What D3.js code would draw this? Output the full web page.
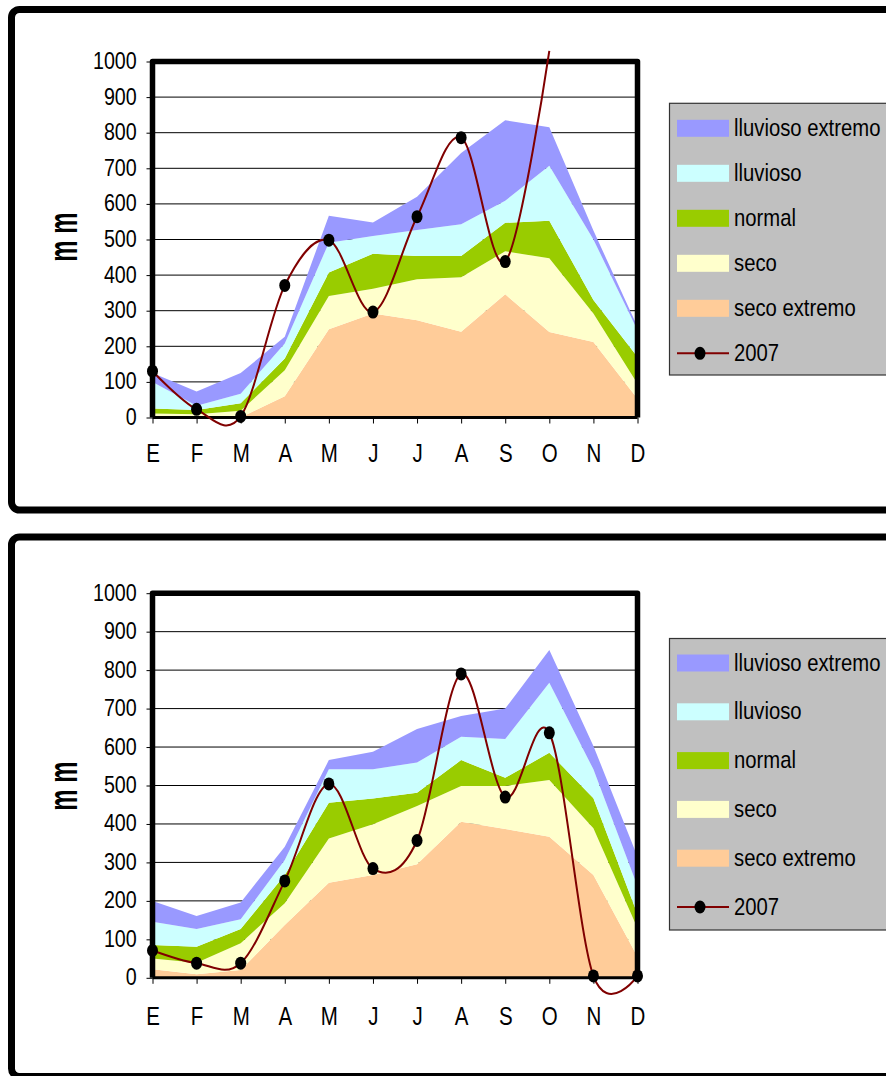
<!DOCTYPE html>
<html>
<head>
<meta charset="utf-8">
<script src="https://cdn.jsdelivr.net/npm/d3@7"></script>
<style>
  html, body { margin: 0; padding: 0; background: #fff; }
  svg { display: block; }
  text { font-family: "Liberation Sans", Arial, sans-serif; fill: #000; }
</style>
</head>
<body>
<svg id="chart" width="886" height="1076"></svg>
<script>
// Month initials (Spanish) and axis ticks
const meses = ["E", "F", "M", "A", "M", "J", "J", "A", "S", "O", "N", "D"];
const ticksMm = [0, 100, 200, 300, 400, 500, 600, 700, 800, 900, 1000];
const nombresSeries = ["lluvioso extremo", "lluvioso", "normal", "seco", "seco extremo"];
const nombreAnio = "2007";

// Panel 1: upper limit of each precipitation class (mm)
const lluviosoExtremo1 = [125, 73, 125, 227, 567, 548, 620, 743, 835, 815, 525, 255];
const lluvioso1        = [100, 33, 67, 208, 491, 510, 527, 543, 609, 707, 500, 245];
const normal1          = [25, 21, 40, 166, 407, 460, 454, 454, 547, 553, 330, 170];
const seco1            = [11, 9, 19, 133, 341, 362, 388, 394, 467, 447, 292, 95];
const secoExtremo1     = [0, 0, 0, 60, 248, 292, 273, 241, 346, 240, 212, 53];
const lluvia2007_1     = [130, 23, 3, 371, 498, 296, 564, 786, 438, 1030, null, null];

// Panel 2: upper limit of each precipitation class (mm)
const lluviosoExtremo2 = [200, 161, 196, 341, 566, 588, 647, 681, 700, 852, 603, 315];
const lluvioso2        = [146, 127, 152, 306, 542, 542, 560, 627, 621, 767, 542, 238];
const normal2          = [85, 81, 127, 267, 455, 466, 481, 566, 520, 585, 467, 165];
const seco2            = [50, 39, 90, 194, 362, 399, 447, 499, 499, 514, 389, 129];
const secoExtremo2     = [22, 9, 20, 137, 247, 267, 295, 406, 387, 367, 267, 55];
const lluvia2007_2     = [71, 38, 38, 252, 504, 284, 357, 790, 470, 637, 5, 5];

// Fill colours, ordered like nombresSeries
const colores = ["#9999FF", "#CCFFFF", "#99CC00", "#FFFFCC", "#FFCC99"];
const colorLinea = "#800000";
const NARROW = 0.82;        // horizontal squeeze giving a narrow sans face
const NARROW_LEYENDA = 0.845;

const svg = d3.select("#chart");

// Text helper: narrow glyphs via a horizontal scale transform
function narrowText(parent, x, y, str, opts = {}) {
  const t = parent.append("text")
    .attr("transform", `translate(${x},${y}) scale(${opts.sx || NARROW},${opts.sy || 1})`)
    .attr("text-anchor", opts.anchor || "start")
    .style("font-size", (opts.size || 24) + "px")
    .text(str);
  if (opts.bold) t.style("font-weight", "bold");
  return t;
}

function drawPanel(cfg, limites, anio) {
  const g = svg.append("g");

  // Outer frame
  g.append("rect")
    .attr("x", 11.5).attr("y", cfg.frameTop)
    .attr("width", 900).attr("height", cfg.frameBottom - cfg.frameTop)
    .attr("rx", 8).attr("ry", 8)
    .attr("fill", "none").attr("stroke", "#000").attr("stroke-width", 7);

  const x = d3.scaleLinear().domain([0, meses.length - 1]).range([cfg.left, cfg.right]);
  const y = d3.scaleLinear().domain([0, 1000]).range([cfg.bottom, cfg.top]);

  // Horizontal gridlines
  g.append("g").selectAll("line")
    .data(ticksMm.filter(v => v > 0 && v < 1000))
    .join("line")
    .attr("x1", cfg.left).attr("x2", cfg.right)
    .attr("y1", d => y(d)).attr("y2", d => y(d))
    .attr("stroke", "#000").attr("stroke-width", 1);

  // Stacked bands: each class fills from the limit below to its own limit
  const capas = [
    { lo: null, hi: limites.secoExtremo, color: colores[4] },
    { lo: limites.secoExtremo, hi: limites.seco, color: colores[3] },
    { lo: limites.seco, hi: limites.normal, color: colores[2] },
    { lo: limites.normal, hi: limites.lluvioso, color: colores[1] },
    { lo: limites.lluvioso, hi: limites.lluviosoExtremo, color: colores[0] }
  ];
  capas.forEach(c => {
    const area = d3.area()
      .x((d, i) => x(i))
      .y0((d, i) => y(c.lo ? c.lo[i] : 0))
      .y1((d, i) => y(d));
    g.append("path").datum(c.hi).attr("d", area).attr("fill", c.color);
  });

  // Y axis
  const ay = g.append("g").attr("transform", `translate(${cfg.left},0)`)
    .call(d3.axisLeft(y).tickValues(ticksMm).tickSize(6).tickFormat(d3.format("d")));
  ay.select(".domain").remove();
  ay.selectAll(".tick line").attr("stroke", "#000").attr("stroke-width", 1);
  ay.selectAll(".tick text")
    .attr("x", -15.8 / NARROW).attr("dy", null).attr("y", 7)
    .attr("transform", `scale(${NARROW},1)`)
    .attr("fill", "#000")
    .style("font-size", "24px")
    .style("font-family", '"Liberation Sans", Arial, sans-serif');

  // X axis
  const ax = g.append("g").attr("transform", `translate(0,${cfg.bottom})`)
    .call(d3.axisBottom(x).tickValues(d3.range(meses.length)).tickSize(6).tickFormat(i => meses[i]));
  ax.select(".domain").remove();
  ax.selectAll(".tick line").attr("stroke", "#000").attr("stroke-width", 1);
  ax.selectAll(".tick text")
    .attr("y", cfg.labelBase - cfg.bottom).attr("dy", null)
    .attr("transform", `scale(${NARROW},1)`)
    .attr("fill", "#000")
    .style("font-size", "25px")
    .style("font-family", '"Liberation Sans", Arial, sans-serif');

  // Plot-area border
  g.append("path")
    .attr("d", `M${cfg.left},${cfg.bottom}V${cfg.top}H${cfg.right}V${cfg.bottom}`)
    .attr("fill", "none").attr("stroke", "#000").attr("stroke-width", 5.5)
    .attr("stroke-linejoin", "round");
  g.append("line")
    .attr("x1", cfg.left).attr("x2", cfg.right)
    .attr("y1", cfg.bottom).attr("y2", cfg.bottom)
    .attr("stroke", "#000").attr("stroke-width", 3);

  // Axis title
  g.append("text")
    .attr("transform", `translate(77.3,${cfg.titleY}) rotate(-90) scale(0.6,1)`)
    .attr("text-anchor", "middle")
    .style("font-size", "40px").style("font-weight", "bold")
    .text("m m");

  // 2007 rainfall: smoothed line and markers
  const linea = d3.line()
    .defined(d => d != null)
    .x((d, i) => x(i))
    .y(d => y(d))
    .curve(d3.curveCardinal.tension(0));
  g.append("path").datum(anio).attr("d", linea)
    .attr("fill", "none").attr("stroke", colorLinea).attr("stroke-width", 2);
  g.append("g").selectAll("ellipse")
    .data(anio.map((v, i) => ({ v, i })).filter(d => d.v != null && d.v <= 1000))
    .join("ellipse")
    .attr("cx", d => x(d.i)).attr("cy", d => y(d.v))
    .attr("rx", 5.5).attr("ry", 6.5).attr("fill", "#000");

  // Legend
  const lg = g.append("g");
  lg.append("rect")
    .attr("x", 669.5).attr("y", cfg.legTop)
    .attr("width", 240).attr("height", cfg.legBottom - cfg.legTop)
    .attr("fill", "#C0C0C0").attr("stroke", "#333").attr("stroke-width", 1.2);
  nombresSeries.concat([nombreAnio]).forEach((nombre, k) => {
    const cy = cfg.legFirst + k * cfg.legStep;
    if (k < nombresSeries.length) {
      lg.append("rect").attr("x", 677).attr("y", cy - 8.5)
        .attr("width", 52).attr("height", 17).attr("fill", colores[k]);
    } else {
      lg.append("line").attr("x1", 677).attr("x2", 729).attr("y1", cy).attr("y2", cy)
        .attr("stroke", colorLinea).attr("stroke-width", 2);
      lg.append("ellipse").attr("cx", 700).attr("cy", cy).attr("rx", 5.5).attr("ry", 6.5).attr("fill", "#000");
    }
    narrowText(lg, 734, cy + 7.5, nombre, { size: 24, sx: NARROW_LEYENDA });
  });
}

drawPanel({
  frameTop: 9.5, frameBottom: 510,
  left: 152.5, right: 637.5, top: 61.5, bottom: 417.5,
  labelBase: 462.3, titleY: 237,
  legTop: 103.3, legBottom: 375, legFirst: 128.3, legStep: 45
}, {
  lluviosoExtremo: lluviosoExtremo1, lluvioso: lluvioso1, normal: normal1,
  seco: seco1, secoExtremo: secoExtremo1
}, lluvia2007_1);

drawPanel({
  frameTop: 537, frameBottom: 1076.5,
  left: 152.5, right: 637.5, top: 593.2, bottom: 977.8,
  labelBase: 1025, titleY: 786,
  legTop: 638.5, legBottom: 930, legFirst: 663, legStep: 48.8
}, {
  lluviosoExtremo: lluviosoExtremo2, lluvioso: lluvioso2, normal: normal2,
  seco: seco2, secoExtremo: secoExtremo2
}, lluvia2007_2);
</script>
</body>
</html>
